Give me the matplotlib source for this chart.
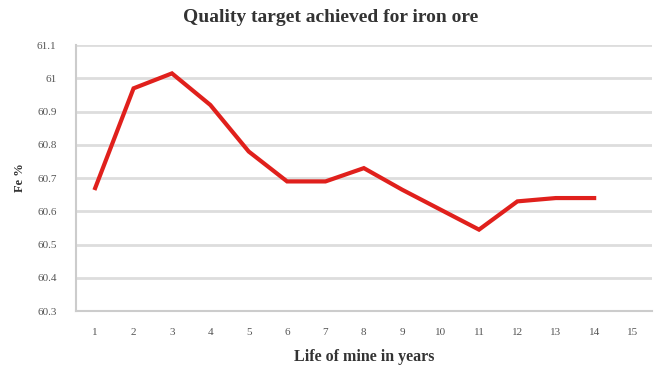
import matplotlib
matplotlib.use("Agg")
import matplotlib.pyplot as plt

years = list(range(1, 16))
fe_years = list(range(1, 15))
fe_values = [60.67, 60.97, 61.015, 60.92, 60.78, 60.69, 60.69, 60.73, 60.665, 60.605, 60.545, 60.63, 60.64, 60.64]
yticks = [60.3, 60.4, 60.5, 60.6, 60.7, 60.8, 60.9, 61.0, 61.1]
ytick_labels = ["60.3", "60.4", "60.5", "60.6", "60.7", "60.8", "60.9", "61", "61.1"]

plt.rcParams['font.family'] = ['Liberation Serif', 'DejaVu Serif']

fig = plt.figure(figsize=(6.55, 3.73), dpi=100)
ax = fig.add_axes([0.116, 0.166, 0.879, 0.713])

ax.plot(fe_years, fe_values, color='#e0201c', linewidth=3, solid_joinstyle='miter')

ax.set_xlim(0.5, 15.5)
ax.set_ylim(60.3, 61.1)
ax.set_yticks(yticks)
ax.set_yticklabels(ytick_labels)
ax.set_xticks(years)
ax.set_xticklabels([str(y) for y in years])
ax.tick_params(length=0, labelsize=8, colors='#555555', pad=12)
ax.tick_params(axis='y', pad=14)
ax.grid(axis='y', color='#dddddd', linewidth=2)
ax.set_axisbelow(True)
for s in ['top', 'right']:
    ax.spines[s].set_visible(False)
for s in ['left', 'bottom']:
    ax.spines[s].set_color('#cccccc')
    ax.spines[s].set_linewidth(1.5)

fig.text(0.505, 0.952, 'Quality target achieved for iron ore', fontsize=14, fontweight='bold',
         color='#333333', ha='center', va='center')
ax.set_xlabel('Life of mine in years', fontsize=11.5, fontweight='bold', color='#333333', labelpad=9)
ax.set_ylabel('Fe %', fontsize=9, fontweight='bold', color='#333333', labelpad=8)

fig.savefig('out.png', dpi=100)
